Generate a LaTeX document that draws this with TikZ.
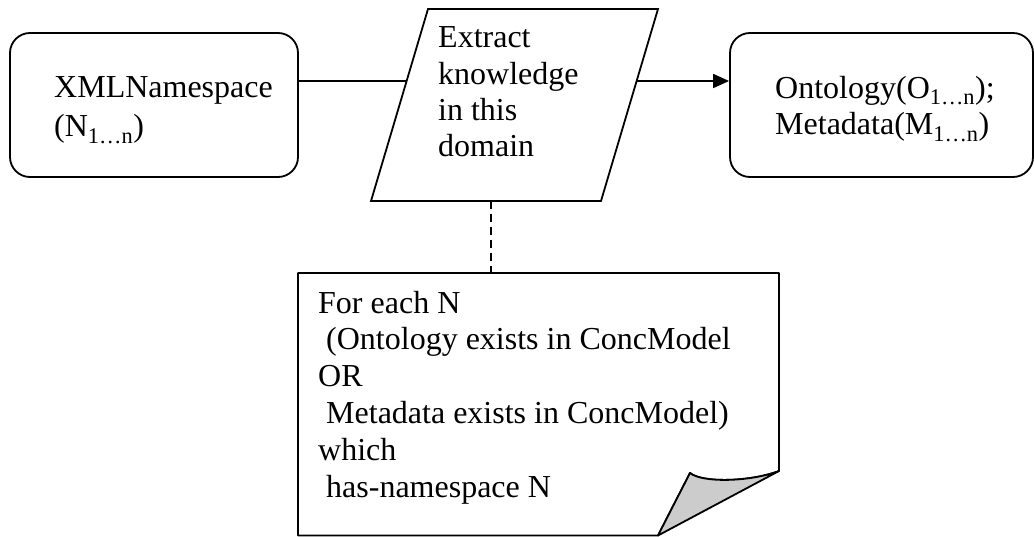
\documentclass[tikz,border=0pt]{standalone}
\usepackage{fontspec}
\setmainfont{Liberation Serif}
\usetikzlibrary{arrows.meta,calc}
\begin{document}
\begin{tikzpicture}[x=1pt,y=-1pt,
  shapeline/.style={draw=black, line width=1.8pt},
  roundbox/.style={shapeline, rounded corners=20pt, minimum height=144pt, inner sep=0pt},
  labeltext/.style={font=\fontsize{32}{36.8}\selectfont, align=left, anchor=base west, inner sep=0pt},
  link/.style={line width=1.8pt},
  arrowlink/.style={link, -{Triangle[length=16pt,width=14pt]}},
  dashlink/.style={link, dash pattern=on 8pt off 5pt},
  flap/.style={shapeline, fill=black!20, line join=round}
]
\useasboundingbox (0,0) rectangle (1034,537);

% rounded boxes
\node[roundbox, minimum width=288pt] (lbox) at (154,105) {};
\node[roundbox, minimum width=303pt] (rbox) at (881.5,105) {};

% parallelogram
\coordinate (ptl) at (428,9);
\coordinate (ptr) at (658,9);
\coordinate (pbr) at (601,201);
\coordinate (pbl) at (371,201);
\draw[shapeline] (ptl) -- (ptr) -- (pbr) -- (pbl) -- cycle;
\coordinate (pin) at ($(pbl)!0.625!(ptl)$);
\coordinate (pout) at ($(pbr)!0.625!(ptr)$);
\coordinate (pbot) at ($(pbl)!0.52!(pbr)$);

% note with folded corner
\coordinate (ntl) at (298,273);
\coordinate (ntr) at (779,273);
\coordinate (nfr) at (779,471);
\coordinate (ntip) at (690,473);
\coordinate (nfb) at (658,535.5);
\coordinate (nbl) at (298,535.5);
\draw[shapeline, line join=round] (ntl) -- (ntr) -- (nfr) .. controls (750,482) and (702,483) .. (ntip) -- (nfb) -- (nbl) -- cycle;
\draw[flap] (ntip) .. controls (702,483) and (750,482) .. (nfr) -- (nfb) -- cycle;
\coordinate (ntop) at (pbot |- ntl);

% connectors
\draw[link] (lbox.east |- pin) -- (pin);
\draw[arrowlink] (pout) -- (rbox.west |- pout);
\draw[dashlink] (pbot) -- (ntop);

% texts (anchored at the baseline of their last line)
\node[labeltext] (ltext) at (54,137) {XMLNamespace\\[3pt](N\textsubscript{1…n})};
\node[labeltext, font=\fontsize{32}{36.4}\selectfont] (ptext) at (438,157) {Extract\\knowledge\\in this\\domain};
\node[labeltext] (rtext) at (775,135) {Ontology(O\textsubscript{1…n});\\Metadata(M\textsubscript{1…n})};
\node[labeltext] (ntext) at (318,497) {For each N\\\hspace*{8pt}(Ontology exists in ConcModel\\OR\\\hspace*{8pt}Metadata exists in ConcModel)\\which\\\hspace*{8pt}has-namespace N};
\end{tikzpicture}
\end{document}
